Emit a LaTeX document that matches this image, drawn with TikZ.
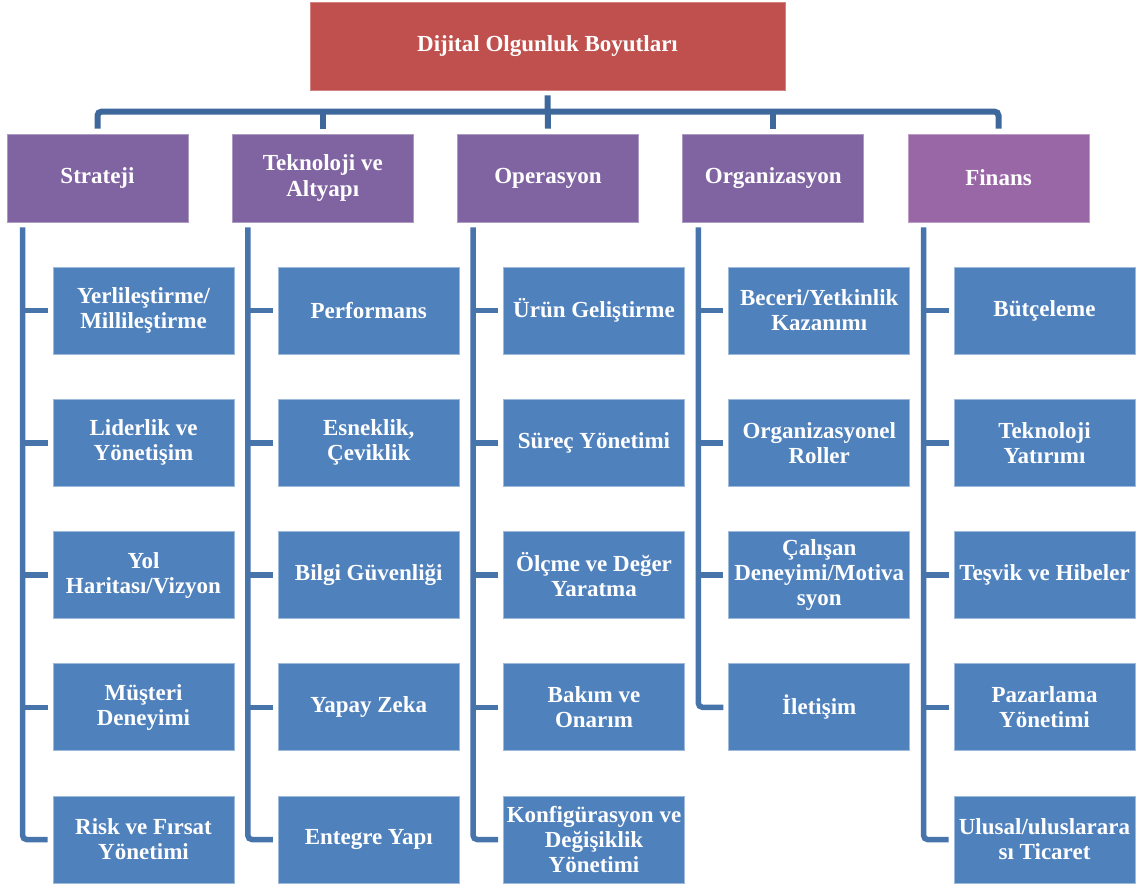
\documentclass[tikz,border=0pt]{standalone}
\usepackage{fontspec}
\setmainfont{Liberation Serif}
\usetikzlibrary{calc}
\definecolor{topred}{RGB}{192,80,77}
\definecolor{catpurple}{RGB}{128,100,162}
\definecolor{finpurple}{RGB}{153,102,166}
\definecolor{leafblue}{RGB}{79,129,189}
\definecolor{busblue}{RGB}{62,104,155}
\definecolor{trunkblue}{RGB}{72,116,172}
\begin{document}
\begin{tikzpicture}[x=1pt,y=-1pt,
 box/.style={rectangle, minimum width=181pt, minimum height=87pt, inner sep=0pt, align=center, text=white, font=\fontsize{23}{25}\selectfont\bfseries, line width=0.8pt},
 topbox/.style={box, fill=topred, draw=topred!70!white, minimum width=475pt, minimum height=88pt},
 catbox/.style={box, fill=catpurple, draw=catpurple!65!white, minimum height=88pt},
 finbox/.style={catbox, fill=finpurple, draw=finpurple!65!white},
 leaf/.style={box, fill=leafblue, draw=leafblue!55!white},
 bus/.style={draw=busblue, line width=6pt, rounded corners=4pt},
 trunk/.style={draw=trunkblue, line width=5.5pt, rounded corners=4pt},
]
\useasboundingbox (0,0) rectangle (1143,886);

\node[topbox] (top) at (547.5,46) {Dijital Olgunluk Boyutları};

\node[catbox] (c1) at (97.5,178) {Strateji};
\node[catbox] (c2) at (322.75,178) {Teknoloji ve\\Altyapı};
\node[catbox] (c3) at (548,178) {Operasyon};
\node[catbox] (c4) at (773.25,178) {Organizasyon};
\node[finbox] (c5) at (998.5,178) {Finans};

% Strateji
\node[leaf] (a1) at (143.5,310.5) {Yerlileştirme/\\Millileştirme};
\node[leaf] (a2) at (143.5,442.75) {Liderlik ve\\Yönetişim};
\node[leaf] (a3) at (143.5,575) {Yol\\Haritası/Vizyon};
\node[leaf] (a4) at (143.5,707.25) {Müşteri\\Deneyimi};
\node[leaf] (a5) at (143.5,839.5) {Risk ve Fırsat\\Yönetimi};
% Teknoloji
\node[leaf] (b1) at (368.75,310.5) {Performans};
\node[leaf] (b2) at (368.75,442.75) {Esneklik,\\Çeviklik};
\node[leaf] (b3) at (368.75,575) {Bilgi Güvenliği};
\node[leaf] (b4) at (368.75,707.25) {Yapay Zeka};
\node[leaf] (b5) at (368.75,839.5) {Entegre Yapı};
% Operasyon
\node[leaf] (d1) at (594,310.5) {Ürün Geliştirme};
\node[leaf] (d2) at (594,442.75) {Süreç Yönetimi};
\node[leaf] (d3) at (594,575) {Ölçme ve Değer\\Yaratma};
\node[leaf] (d4) at (594,707.25) {Bakım ve\\Onarım};
\node[leaf] (d5) at (594,839.5) {Konfigürasyon ve\\Değişiklik\\Yönetimi};
% Organizasyon
\node[leaf] (e1) at (819.25,310.5) {Beceri/Yetkinlik\\Kazanımı};
\node[leaf] (e2) at (819.25,442.75) {Organizasyonel\\Roller};
\node[leaf] (e3) at (819.25,575) {Çalışan\\Deneyimi/Motiva\\syon};
\node[leaf] (e4) at (819.25,707.25) {İletişim};
% Finans
\node[leaf] (f1) at (1044.5,310.5) {Bütçeleme};
\node[leaf] (f2) at (1044.5,442.75) {Teknoloji\\Yatırımı};
\node[leaf] (f3) at (1044.5,575) {Teşvik ve Hibeler};
\node[leaf] (f4) at (1044.5,707.25) {Pazarlama\\Yönetimi};
\node[leaf] (f5) at (1044.5,839.5) {Ulusal/uluslarara\\sı Ticaret};

% bus
\draw[bus] ([yshift=5pt]c1.north) -- ([yshift=22pt]c1.north) -- ([yshift=22pt]c5.north) -- ([yshift=5pt]c5.north);
\draw[bus, rounded corners=0pt] ([yshift=-5pt]top.south) -- ([yshift=5pt]c3.north);
\draw[bus, rounded corners=0pt] ([yshift=22pt]c2.north) -- ([yshift=5pt]c2.north);
\draw[bus, rounded corners=0pt] ([yshift=22pt]c4.north) -- ([yshift=5pt]c4.north);

% trunks
\foreach \c/\p/\last/\list in {c1/a/5/{1,2,3,4}, c2/b/5/{1,2,3,4}, c3/d/5/{1,2,3,4}, c4/e/4/{1,2,3}, c5/f/5/{1,2,3,4}}{
  \coordinate (t\p) at ([xshift=16pt,yshift=-5pt]\c.south west);
  \draw[trunk] (t\p) |- ([xshift=-5pt]\p\last.west);
  \foreach \i in \list {
    \draw[trunk, rounded corners=0pt] ([xshift=-5pt]\p\i.west) -- (\p\i.west -| t\p);
  }
}
\end{tikzpicture}
\end{document}
